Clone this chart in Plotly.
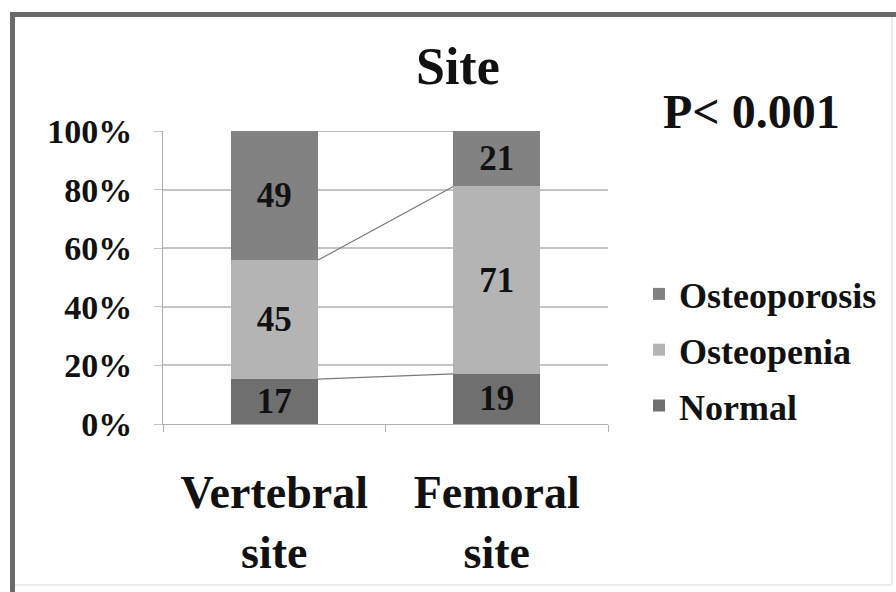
import plotly.graph_objects as go

categories = ["Vertebral<br>site", "Femoral<br>site"]
normal = [17, 19]
osteopenia = [45, 71]
osteoporosis = [49, 21]
series_names = ["Normal", "Osteopenia", "Osteoporosis"]
series_values = [normal, osteopenia, osteoporosis]
series_colors = ["#6f6f6f", "#b4b4b4", "#828282"]
y_ticks = [0, 20, 40, 60, 80, 100]
y_tick_labels = ["0%", "20%", "40%", "60%", "80%", "100%"]
title_text = "Site"
p_text = "P< 0.001"

W, H = 896, 592
L, R, T, B = 163, 288, 131, 168
PW, PH = W - L - R, H - T - B
FONT = "Liberation Serif"
BAR_W = 0.39


def px_x(px):
    return (px - L) / PW


def px_y(py):
    return (H - B - py) / PH


xpos = list(range(len(categories)))
totals = [sum(v[i] for v in series_values) for i in xpos]

fig = go.Figure()
n = len(series_names)
for k, (name, vals, col) in enumerate(zip(series_names, series_values, series_colors)):
    fig.add_trace(go.Bar(
        x=xpos, y=vals, name=name, width=BAR_W, legendgroup=name,
        legendrank=n - k,
        marker=dict(color=col, line=dict(width=0)),
        text=[str(v) for v in vals], textposition="inside", textangle=0,
        insidetextanchor="middle", constraintext="none",
        textfont=dict(family=FONT, size=35, color="#111111", weight="bold"),
        hoverinfo="skip",
    ))

# series lines between stacked bars
cum = [0.0 for _ in xpos]
for vals in series_values:
    cum = [cum[i] + vals[i] for i in xpos]
    pct = [100.0 * cum[i] / totals[i] for i in xpos]
    fig.add_trace(go.Scatter(
        x=[xpos[0] + BAR_W / 2, xpos[1] - BAR_W / 2], y=pct,
        mode="lines", line=dict(color="#7a7a7a", width=1.2),
        showlegend=False, hoverinfo="skip",
    ))

fig.update_layout(
    width=W, height=H,
    margin=dict(l=L, r=R, t=T, b=B, pad=0),
    paper_bgcolor="white", plot_bgcolor="white",
    barmode="stack", barnorm="percent",
    showlegend=True,
    legend=dict(
        traceorder="grouped", x=px_x(639), y=px_y(264),
        xanchor="left", yanchor="top",
        font=dict(family=FONT, size=36, color="#111111", weight="bold"),
        bgcolor="rgba(0,0,0,0)", itemwidth=30, tracegroupgap=6,
    ),
    xaxis=dict(
        range=[-0.5, 1.5], tickvals=xpos, ticktext=categories,
        showgrid=False, zeroline=False, ticks="",
        showline=True, linecolor="#b0b0b0", linewidth=1,
        tickfont=dict(family=FONT, size=46, color="#111111", weight="bold"),
        ticklabelstandoff=28,
        minor=dict(tick0=-0.5, dtick=1, ticks="outside", ticklen=7,
                   tickcolor="#b0b0b0", showgrid=False),
    ),
    yaxis=dict(
        range=[0, 100], tickvals=y_ticks, ticktext=y_tick_labels,
        showgrid=True, gridcolor="#c4c4c4", gridwidth=1.5,
        zeroline=False, showline=True, linecolor="#b0b0b0", linewidth=1,
        ticks="outside", ticklen=8, tickcolor="#c4c4c4",
        tickfont=dict(family=FONT, size=34, color="#111111", weight="bold"),
        ticklabelstandoff=15,
    ),
    annotations=[
        dict(text=title_text, xref="paper", yref="paper",
             x=px_x(458), y=px_y(66), xanchor="center", yanchor="middle",
             showarrow=False,
             font=dict(family=FONT, size=52, color="#111111", weight="bold")),
        dict(text=p_text, xref="paper", yref="paper",
             x=px_x(751), y=px_y(112), xanchor="center", yanchor="middle",
             showarrow=False,
             font=dict(family=FONT, size=48, color="#111111", weight="bold")),
    ],
    shapes=[
        dict(type="line", xref="paper", yref="paper", x0=px_x(12), x1=px_x(896),
             y0=px_y(14.5), y1=px_y(14.5), line=dict(color="#6a6a6a", width=5)),
        dict(type="line", xref="paper", yref="paper", x0=px_x(12.5), x1=px_x(12.5),
             y0=px_y(12), y1=px_y(592), line=dict(color="#6a6a6a", width=5)),
        dict(type="line", xref="paper", yref="paper", x0=px_x(15), x1=px_x(892),
             y0=px_y(585), y1=px_y(585), line=dict(color="#ececec", width=2)),
        dict(type="line", xref="paper", yref="paper", x0=px_x(892), x1=px_x(892),
             y0=px_y(17), y1=px_y(585), line=dict(color="#ececec", width=2)),
    ],
)

fig.write_html("out.html", config={"displayModeBar": False},
               post_script="document.body.style.margin='0px';")
